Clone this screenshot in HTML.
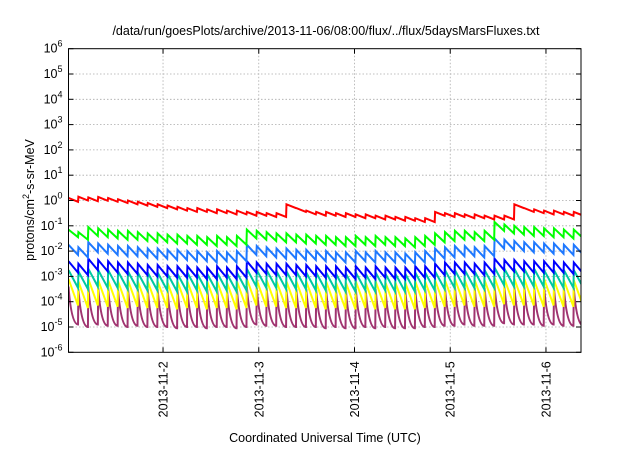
<!DOCTYPE html>
<html><head><meta charset="utf-8"><style>
body{margin:0;background:#fff;}
svg text{font-family:"Liberation Sans",sans-serif;fill:#000;}
</style></head><body>
<svg id="c" width="640" height="448" xmlns="http://www.w3.org/2000/svg">
<rect width="640" height="448" fill="#fff"/>
<text x="326" y="35" font-size="12.5" text-anchor="middle">/data/run/goesPlots/archive/2013-11-06/08:00/flux/../flux/5daysMarsFluxes.txt</text>
<text transform="translate(34,200) rotate(-90)" font-size="12.5" text-anchor="middle">protons/cm<tspan font-size="9" dy="-5">2</tspan><tspan dy="5">-s-sr-MeV</tspan></text>
<text x="325" y="442" font-size="12.5" text-anchor="middle">Coordinated Universal Time (UTC)</text>
<defs><clipPath id="clip"><rect x="68.5" y="48.7" width="512.5" height="303.6"/></clipPath></defs>
<g id="grid"></g><g id="series" clip-path="url(#clip)"></g><g id="axes"></g>
</svg>
<script>
const tickDays=[2,3,4,5,6];
const tickLabels=["2013-11-2","2013-11-3","2013-11-4","2013-11-5","2013-11-6"];
const yExps=[-6,-5,-4,-3,-2,-1,0,1,2,3,4,5,6];
const startDay=1.0125, cycleDays=0.1035;
const redPeak=[0.10,0.15,0.12,0.14,0.10,0.05,0.0,-0.05,-0.1,-0.15,-0.2,-0.25,-0.3,-0.3,-0.35,-0.35,-0.4,-0.4,-0.45,-0.45,-0.5,-0.5,-0.15,-0.3,-0.4,-0.45,-0.45,-0.5,-0.5,-0.55,-0.55,-0.6,-0.6,-0.65,-0.65,-0.7,-0.7,-0.45,-0.5,-0.5,-0.55,-0.55,-0.6,-0.6,-0.6,-0.15,-0.3,-0.35,-0.4,-0.4,-0.45,-0.45];
const redTrough=[-0.05,0.0,-0.03,-0.01,-0.05,-0.1,-0.15,-0.2,-0.25,-0.3,-0.35,-0.4,-0.45,-0.45,-0.5,-0.5,-0.55,-0.55,-0.6,-0.6,-0.65,-0.65,-0.3,-0.45,-0.55,-0.6,-0.6,-0.65,-0.65,-0.7,-0.7,-0.75,-0.75,-0.8,-0.8,-0.85,-0.85,-0.6,-0.65,-0.65,-0.7,-0.7,-0.75,-0.75,-0.75,-0.3,-0.45,-0.5,-0.55,-0.55,-0.6,-0.6];
const greenPeak=[-1.15,-1.25,-1.05,-1.1,-1.15,-1.2,-1.2,-1.25,-1.3,-1.3,-1.35,-1.35,-1.4,-1.4,-1.45,-1.4,-1.45,-1.4,-1.15,-1.2,-1.25,-1.3,-1.3,-1.35,-1.35,-1.4,-1.4,-1.45,-1.45,-1.4,-1.45,-1.4,-1.45,-1.45,-1.5,-1.45,-1.4,-1.3,-1.25,-1.2,-1.2,-1.25,-1.2,-0.85,-0.95,-1.0,-1.05,-1.05,-1.1,-1.1,-1.15,-1.15];
const greenTrough=[-1.45,-1.55,-1.4,-1.45,-1.5,-1.55,-1.55,-1.6,-1.65,-1.65,-1.7,-1.7,-1.75,-1.75,-1.8,-1.75,-1.8,-1.75,-1.5,-1.55,-1.6,-1.65,-1.65,-1.7,-1.7,-1.75,-1.75,-1.8,-1.8,-1.75,-1.8,-1.75,-1.8,-1.8,-1.85,-1.8,-1.75,-1.65,-1.6,-1.55,-1.55,-1.6,-1.55,-1.2,-1.3,-1.35,-1.4,-1.4,-1.45,-1.45,-1.5,-1.5];
const lblueP=[-1.75,-1.85,-1.65,-1.7,-1.75,-1.8,-1.8,-1.85,-1.9,-1.9,-1.95,-1.95,-2.0,-2.0,-2.05,-2.0,-2.05,-2.0,-1.75,-1.8,-1.85,-1.9,-1.9,-1.95,-1.95,-2.0,-2.0,-2.05,-2.05,-2.0,-2.05,-2.0,-2.05,-2.05,-2.1,-2.05,-2.0,-1.9,-1.85,-1.8,-1.8,-1.85,-1.8,-1.5,-1.55,-1.6,-1.65,-1.65,-1.7,-1.7,-1.75,-1.75];
const lblueT=[-2.15,-2.25,-2.05,-2.1,-2.15,-2.2,-2.2,-2.25,-2.3,-2.3,-2.35,-2.35,-2.4,-2.4,-2.45,-2.4,-2.45,-2.4,-2.15,-2.2,-2.25,-2.3,-2.3,-2.35,-2.35,-2.4,-2.4,-2.45,-2.45,-2.4,-2.45,-2.4,-2.45,-2.45,-2.5,-2.45,-2.4,-2.3,-2.25,-2.2,-2.2,-2.25,-2.2,-1.9,-1.95,-2.0,-2.05,-2.05,-2.1,-2.1,-2.15,-2.15];
const blueP=[-2.4,-2.5,-2.3,-2.35,-2.4,-2.45,-2.45,-2.5,-2.55,-2.55,-2.6,-2.6,-2.6,-2.65,-2.65,-2.6,-2.65,-2.6,-2.4,-2.45,-2.5,-2.5,-2.5,-2.55,-2.55,-2.6,-2.6,-2.6,-2.65,-2.6,-2.65,-2.6,-2.65,-2.65,-2.65,-2.6,-2.6,-2.5,-2.45,-2.45,-2.45,-2.5,-2.45,-2.3,-2.35,-2.35,-2.4,-2.4,-2.4,-2.4,-2.45,-2.45];
const blueT=[-2.85,-2.95,-2.75,-2.8,-2.85,-2.9,-2.9,-2.95,-3.0,-3.0,-3.05,-3.05,-3.05,-3.1,-3.1,-3.05,-3.1,-3.05,-2.85,-2.9,-2.95,-2.95,-2.95,-3.0,-3.0,-3.05,-3.05,-3.05,-3.1,-3.05,-3.1,-3.05,-3.1,-3.1,-3.1,-3.05,-3.05,-2.95,-2.9,-2.9,-2.9,-2.95,-2.9,-2.75,-2.8,-2.8,-2.85,-2.85,-2.85,-2.85,-2.9,-2.9];
const tealP=[-2.75,-2.8,-2.7,-2.75,-2.75,-2.8,-2.8,-2.85,-2.85,-2.85,-2.9,-2.9,-2.85,-2.9,-2.9,-2.85,-2.9,-2.85,-2.7,-2.75,-2.75,-2.8,-2.8,-2.8,-2.85,-2.85,-2.85,-2.9,-2.9,-2.85,-2.9,-2.85,-2.9,-2.9,-2.9,-2.85,-2.85,-2.8,-2.75,-2.75,-2.75,-2.8,-2.75,-2.65,-2.7,-2.7,-2.7,-2.7,-2.75,-2.75,-2.75,-2.75];
const tealT=[-3.45,-3.5,-3.4,-3.45,-3.45,-3.5,-3.5,-3.55,-3.55,-3.55,-3.6,-3.6,-3.55,-3.6,-3.6,-3.55,-3.6,-3.55,-3.4,-3.45,-3.45,-3.5,-3.5,-3.5,-3.55,-3.55,-3.55,-3.6,-3.6,-3.55,-3.6,-3.55,-3.6,-3.6,-3.6,-3.55,-3.55,-3.5,-3.45,-3.45,-3.45,-3.5,-3.45,-3.35,-3.4,-3.4,-3.4,-3.4,-3.45,-3.45,-3.45,-3.45];
const yellowP=[-3.1,-3.2,-3.1,-3.15,-3.15,-3.2,-3.15,-3.2,-3.2,-3.2,-3.25,-3.2,-3.2,-3.25,-3.2,-3.2,-3.25,-3.2,-3.1,-3.15,-3.15,-3.2,-3.2,-3.2,-3.2,-3.25,-3.2,-3.25,-3.25,-3.2,-3.25,-3.2,-3.25,-3.25,-3.25,-3.2,-3.2,-3.15,-3.15,-3.1,-3.15,-3.15,-3.15,-3.05,-3.1,-3.1,-3.1,-3.15,-3.1,-3.15,-3.15,-3.15];
const yellowT=[-4.15,-4.25,-4.15,-4.2,-4.2,-4.25,-4.2,-4.25,-4.25,-4.25,-4.3,-4.25,-4.25,-4.3,-4.25,-4.25,-4.3,-4.25,-4.15,-4.2,-4.2,-4.25,-4.25,-4.25,-4.25,-4.3,-4.25,-4.3,-4.3,-4.25,-4.3,-4.25,-4.3,-4.3,-4.3,-4.25,-4.25,-4.2,-4.2,-4.15,-4.2,-4.2,-4.2,-4.1,-4.15,-4.15,-4.15,-4.2,-4.15,-4.2,-4.2,-4.2];
const purpleP=[-3.4,-3.5,-3.4,-3.45,-3.45,-3.5,-3.45,-3.5,-3.5,-3.5,-3.55,-3.5,-3.5,-3.55,-3.5,-3.5,-3.55,-3.5,-3.4,-3.45,-3.45,-3.5,-3.5,-3.5,-3.5,-3.55,-3.5,-3.55,-3.55,-3.5,-3.55,-3.5,-3.55,-3.55,-3.55,-3.5,-3.5,-3.45,-3.45,-3.4,-3.45,-3.45,-3.45,-3.35,-3.4,-3.4,-3.4,-3.45,-3.4,-3.45,-3.45,-3.45];
const purpleT=[-4.9,-5.0,-4.9,-4.95,-4.95,-5.0,-4.95,-5.0,-5.0,-5.0,-5.05,-5.0,-5.0,-5.05,-5.0,-5.0,-5.05,-5.0,-4.9,-4.95,-4.95,-5.0,-5.0,-5.0,-5.0,-5.05,-5.0,-5.05,-5.05,-5.0,-5.05,-5.0,-5.05,-5.05,-5.05,-5.0,-5.0,-4.95,-4.95,-4.9,-4.95,-4.95,-4.95,-4.85,-4.9,-4.9,-4.9,-4.95,-4.9,-4.95,-4.95,-4.95];

const X0=68.5,X1=581,Y0=48.7,Y1=352.3,dMin=1.0125,dMax=6.366;
const xS=d=>X0+(d-dMin)/(dMax-dMin)*(X1-X0);
const yS=e=>Y1-(e+6)/12*(Y1-Y0);
const NS="http://www.w3.org/2000/svg";
function mk(tag,parent){const e=document.createElementNS(NS,tag);parent.appendChild(e);return e;}
const grid=document.getElementById('grid'),axes=document.getElementById('axes'),ser=document.getElementById('series');
yExps.forEach(e=>{
  const y=yS(e);
  if(e>-6&&e<6){const l=mk('line',grid);
    
    
    l.setAttribute('x1',X0);l.setAttribute('x2',X1);l.setAttribute('y1',y);l.setAttribute('y2',y);
    l.setAttribute('stroke','#aaa');l.setAttribute('stroke-width','0.8');l.setAttribute('stroke-dasharray','1.5,2');}
  [[X0,X0+5],[X1-5,X1]].forEach(p=>{const t=mk('line',axes);
    
    
    t.setAttribute('x1',p[0]);t.setAttribute('x2',p[1]);t.setAttribute('y1',y);t.setAttribute('y2',y);t.setAttribute('stroke','#000');});
  const tx=mk('text',axes);
  
  
  tx.setAttribute('x',X0-6);tx.setAttribute('y',y+4);tx.setAttribute('text-anchor','end');tx.setAttribute('font-size','12.5');
  tx.innerHTML='10<tspan font-size="9" dy="-6">'+e+'</tspan>';
});
tickDays.forEach((d,i)=>{
  const x=xS(d);
  const l=mk('line',grid);
  
  
  l.setAttribute('x1',x);l.setAttribute('x2',x);l.setAttribute('y1',Y0);l.setAttribute('y2',Y1);
  l.setAttribute('stroke','#aaa');l.setAttribute('stroke-width','0.8');l.setAttribute('stroke-dasharray','1.5,2');
  [[Y1,Y1-5],[Y0,Y0+5]].forEach(p=>{const t=mk('line',axes);
    
    
    t.setAttribute('x1',x);t.setAttribute('x2',x);t.setAttribute('y1',p[0]);t.setAttribute('y2',p[1]);t.setAttribute('stroke','#000');});
  const tx=mk('text',axes);
  
  
  tx.setAttribute('transform','translate('+(x+4.5)+','+(Y1+9)+') rotate(-90)');
  tx.setAttribute('text-anchor','end');tx.setAttribute('font-size','12.5');
  tx.textContent=tickLabels[i];
});
const fr=mk('rect',axes);


fr.setAttribute('x',X0);fr.setAttribute('y',Y0);fr.setAttribute('width',X1-X0);fr.setAttribute('height',Y1-Y0);
fr.setAttribute('fill','none');fr.setAttribute('stroke','#000');

const seriesList=[
 ['series-purple',purpleP,purpleT,'#a03470',true],
 ['series-yellow',yellowP,yellowT,'#ffff00',false],
 ['series-teal',tealP,tealT,'#00c8a0',false],
 ['series-blue',blueP,blueT,'#0000ff',false],
 ['series-light-blue',lblueP,lblueT,'#1e78ff',false],
 ['series-green',greenP=greenPeak,greenTrough,'#00ff00',false],
 ['series-red',redPeak,redTrough,'#ff0000',false]];
var greenP;
seriesList.forEach(s=>{
  const P=s[1],T=s[2];let d='';
  for(let k=0;k<P.length;k++){
    const t0=startDay+k*cycleDays,t1=t0+cycleDays*0.96;
    const xp=xS(t0),yp=yS(P[k]),xt=xS(t1),yt=yS(T[k]);
    d+=(k?'L':'M')+xp.toFixed(2)+' '+yp.toFixed(2);
    if(s[4]) d+='Q'+(xp+(xt-xp)*0.3).toFixed(2)+' '+yt.toFixed(2)+' '+xt.toFixed(2)+' '+yt.toFixed(2);
    else d+='L'+xt.toFixed(2)+' '+yt.toFixed(2);
  }
  const p=mk('path',ser);
  
  
  p.setAttribute('d',d);p.setAttribute('fill','none');p.setAttribute('stroke',s[3]);
  p.setAttribute('stroke-width','2');p.setAttribute('stroke-linejoin','miter');
});
</script>
</body></html>
